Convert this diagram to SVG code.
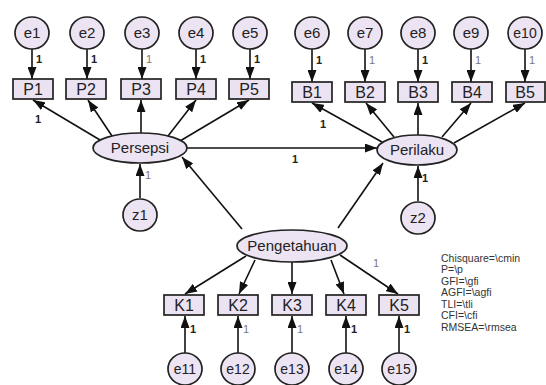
<svg xmlns="http://www.w3.org/2000/svg" width="546" height="385" viewBox="0 0 546 385">
<defs>
<marker id="ah" viewBox="0 0 12 9" refX="12" refY="4.5" markerWidth="12" markerHeight="9" markerUnits="userSpaceOnUse" orient="auto">
<path d="M0,0 L12,4.5 L0,9 Z" fill="#111"/>
</marker>
</defs>
<style>
.c{fill:#ece3f3;stroke:#222;stroke-width:1.7}
.b{fill:#ebe3f2;stroke:#222;stroke-width:1.7}
.t{font-family:"Liberation Sans",Arial,sans-serif;font-size:15px;fill:#222;text-anchor:middle}
.bt{font-family:"Liberation Sans",Arial,sans-serif;font-size:16px;fill:#222;text-anchor:middle}
.lt{font-family:"Liberation Sans",Arial,sans-serif;font-size:15px;fill:#222;text-anchor:middle}
.n{font-family:"Liberation Sans",Arial,sans-serif;font-size:11px;fill:#222;font-weight:bold}
.g{font-family:"Liberation Sans",Arial,sans-serif;font-size:11px;fill:#777}
.lg{font-family:"Liberation Sans",Arial,sans-serif;font-size:10.5px;fill:#333}
.a{stroke:#111;stroke-width:1.6;fill:none;marker-end:url(#ah)}
</style>
<rect width="546" height="385" fill="#fff"/>
<g id="connectors">
<line class="a" x1="32" y1="49" x2="32" y2="79"/>
<line class="a" x1="87" y1="49" x2="87" y2="79"/>
<line class="a" x1="142" y1="49" x2="142" y2="79"/>
<line class="a" x1="196" y1="49" x2="196" y2="79"/>
<line class="a" x1="250" y1="49" x2="250" y2="79"/>
<line class="a" x1="312" y1="49" x2="312" y2="82"/>
<line class="a" x1="365" y1="49" x2="365" y2="82"/>
<line class="a" x1="418" y1="49" x2="418" y2="82"/>
<line class="a" x1="471" y1="49" x2="471" y2="82"/>
<line class="a" x1="525" y1="49" x2="525" y2="82"/>
<line class="a" x1="100" y1="140" x2="33" y2="100"/>
<line class="a" x1="112" y1="136" x2="88" y2="100"/>
<line class="a" x1="141" y1="133" x2="141" y2="100"/>
<line class="a" x1="168" y1="136" x2="196" y2="100"/>
<line class="a" x1="180" y1="141" x2="249" y2="100"/>
<line class="a" x1="382" y1="142" x2="312" y2="103"/>
<line class="a" x1="394" y1="137" x2="366" y2="103"/>
<line class="a" x1="418" y1="135" x2="418" y2="103"/>
<line class="a" x1="442" y1="137" x2="471" y2="103"/>
<line class="a" x1="454" y1="143" x2="525" y2="103"/>
<line class="a" x1="187" y1="148" x2="377" y2="148"/>
<line class="a" x1="140" y1="198" x2="140" y2="164"/>
<line class="a" x1="418" y1="201" x2="418" y2="166"/>
<line class="a" x1="242" y1="229" x2="182" y2="157"/>
<line class="a" x1="338" y1="228" x2="383" y2="163"/>
<line class="a" x1="246" y1="256" x2="185" y2="294"/>
<line class="a" x1="255" y1="260" x2="239" y2="294"/>
<line class="a" x1="292" y1="262" x2="292" y2="294"/>
<line class="a" x1="331" y1="260" x2="344" y2="294"/>
<line class="a" x1="340" y1="255" x2="398" y2="294"/>
<line class="a" x1="185" y1="353" x2="185" y2="316"/>
<line class="a" x1="238" y1="353" x2="238" y2="316"/>
<line class="a" x1="292" y1="353" x2="292" y2="316"/>
<line class="a" x1="346" y1="353" x2="346" y2="316"/>
<line class="a" x1="399" y1="353" x2="399" y2="316"/>
</g>
<g id="weights">
<text class="n" x="36" y="63">1</text>
<text class="n" x="91" y="63">1</text>
<text class="g" x="146" y="63">1</text>
<text class="n" x="200" y="63">1</text>
<text class="n" x="254" y="63">1</text>
<text class="n" x="316" y="64">1</text>
<text class="g" x="369" y="64">1</text>
<text class="n" x="422" y="64">1</text>
<text class="g" x="475" y="64">1</text>
<text class="g" x="529" y="64">1</text>
<text class="n" x="35" y="123">1</text>
<text class="n" x="320" y="128">1</text>
<text class="n" x="292" y="163">1</text>
<text class="g" x="145" y="179">1</text>
<text class="n" x="422" y="182">1</text>
<text class="g" x="373" y="267">1</text>
<text class="n" x="190" y="333">1</text>
<text class="g" x="243" y="333">1</text>
<text class="g" x="297" y="333">1</text>
<text class="n" x="351" y="333">1</text>
<text class="n" x="404" y="333">1</text>
</g>
<g id="e1"><ellipse class="c" cx="32" cy="33" rx="17" ry="16"/><text class="t" x="32" y="38">e1</text></g>
<g id="e2"><ellipse class="c" cx="87" cy="33" rx="17" ry="16"/><text class="t" x="87" y="38">e2</text></g>
<g id="e3"><ellipse class="c" cx="142" cy="33" rx="17" ry="16"/><text class="t" x="142" y="38">e3</text></g>
<g id="e4"><ellipse class="c" cx="196" cy="33" rx="17" ry="16"/><text class="t" x="196" y="38">e4</text></g>
<g id="e5"><ellipse class="c" cx="250" cy="33" rx="17" ry="16"/><text class="t" x="250" y="38">e5</text></g>
<g id="e6"><ellipse class="c" cx="312" cy="33" rx="17" ry="16"/><text class="t" x="312" y="38">e6</text></g>
<g id="e7"><ellipse class="c" cx="365" cy="33" rx="17" ry="16"/><text class="t" x="365" y="38">e7</text></g>
<g id="e8"><ellipse class="c" cx="418" cy="33" rx="17" ry="16"/><text class="t" x="418" y="38">e8</text></g>
<g id="e9"><ellipse class="c" cx="471" cy="33" rx="17" ry="16"/><text class="t" x="471" y="38">e9</text></g>
<g id="e10"><ellipse class="c" cx="525" cy="33" rx="17" ry="16"/><text class="t" x="525" y="38" style="font-size:14px">e10</text></g>
<g id="P1"><rect class="b" x="13" y="79" width="40" height="20"/><text class="bt" x="33" y="95">P1</text></g>
<g id="P2"><rect class="b" x="66" y="79" width="40" height="20"/><text class="bt" x="86" y="95">P2</text></g>
<g id="P3"><rect class="b" x="121" y="79" width="40" height="20"/><text class="bt" x="141" y="95">P3</text></g>
<g id="P4"><rect class="b" x="176" y="79" width="40" height="20"/><text class="bt" x="196" y="95">P4</text></g>
<g id="P5"><rect class="b" x="229" y="79" width="40" height="20"/><text class="bt" x="249" y="95">P5</text></g>
<g id="B1"><rect class="b" x="292" y="82" width="40" height="20"/><text class="bt" x="312" y="98">B1</text></g>
<g id="B2"><rect class="b" x="345" y="82" width="40" height="20"/><text class="bt" x="365" y="98">B2</text></g>
<g id="B3"><rect class="b" x="398" y="82" width="40" height="20"/><text class="bt" x="418" y="98">B3</text></g>
<g id="B4"><rect class="b" x="452" y="82" width="40" height="20"/><text class="bt" x="472" y="98">B4</text></g>
<g id="B5"><rect class="b" x="506" y="82" width="39" height="20"/><text class="bt" x="525" y="98">B5</text></g>
<g id="Persepsi"><ellipse class="c" cx="140" cy="148" rx="47" ry="15"/><text class="lt" x="140" y="153">Persepsi</text></g>
<g id="Perilaku"><ellipse class="c" cx="417" cy="150" rx="40" ry="15"/><text class="lt" x="417" y="155">Perilaku</text></g>
<g id="z1"><ellipse class="c" cx="140" cy="215" rx="17" ry="16"/><text class="t" x="140" y="220">z1</text></g>
<g id="z2"><ellipse class="c" cx="418" cy="218" rx="17" ry="16"/><text class="t" x="418" y="223">z2</text></g>
<g id="Pengetahuan"><ellipse class="c" cx="292" cy="246" rx="55" ry="16"/><text class="lt" x="292" y="251">Pengetahuan</text></g>
<g id="K1"><rect class="b" x="164" y="295" width="40" height="20"/><text class="bt" x="184" y="311">K1</text></g>
<g id="K2"><rect class="b" x="218" y="295" width="40" height="20"/><text class="bt" x="238" y="311">K2</text></g>
<g id="K3"><rect class="b" x="272" y="295" width="40" height="20"/><text class="bt" x="292" y="311">K3</text></g>
<g id="K4"><rect class="b" x="326" y="295" width="40" height="20"/><text class="bt" x="346" y="311">K4</text></g>
<g id="K5"><rect class="b" x="379" y="295" width="40" height="20"/><text class="bt" x="399" y="311">K5</text></g>
<g id="e11"><ellipse class="c" cx="185" cy="369" rx="17" ry="16"/><text class="t" x="185" y="374" style="font-size:14px">e11</text></g>
<g id="e12"><ellipse class="c" cx="238" cy="369" rx="17" ry="16"/><text class="t" x="238" y="374" style="font-size:14px">e12</text></g>
<g id="e13"><ellipse class="c" cx="292" cy="369" rx="17" ry="16"/><text class="t" x="292" y="374" style="font-size:14px">e13</text></g>
<g id="e14"><ellipse class="c" cx="346" cy="369" rx="17" ry="16"/><text class="t" x="346" y="374" style="font-size:14px">e14</text></g>
<g id="e15"><ellipse class="c" cx="399" cy="369" rx="17" ry="16"/><text class="t" x="399" y="374" style="font-size:14px">e15</text></g>
<g id="legend">
<text class="lg" x="441" y="262">Chisquare=\cmin</text>
<text class="lg" x="441" y="273">P=\p</text>
<text class="lg" x="441" y="285">GFI=\gfi</text>
<text class="lg" x="441" y="296">AGFI=\agfi</text>
<text class="lg" x="441" y="308">TLI=\tli</text>
<text class="lg" x="441" y="319">CFI=\cfi</text>
<text class="lg" x="441" y="331">RMSEA=\rmsea</text>
</g>
</svg>
